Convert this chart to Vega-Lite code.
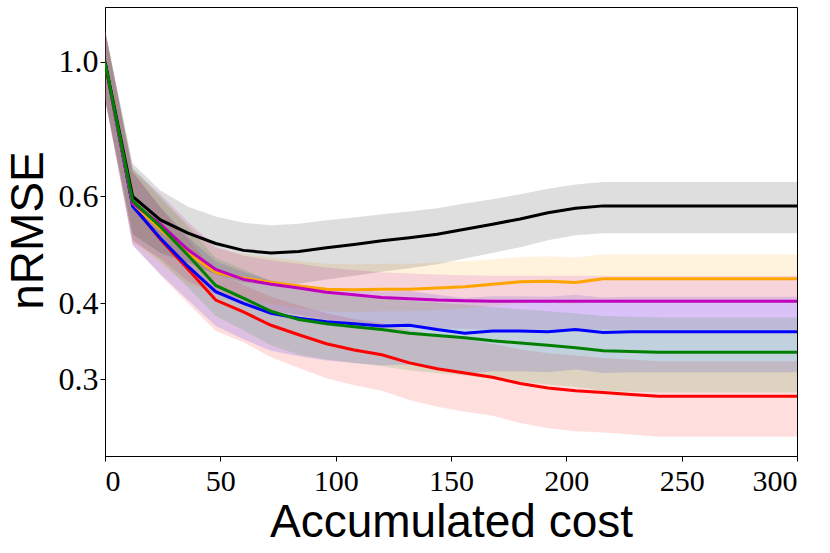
{
  "$schema": "https://vega.github.io/schema/vega-lite/v6.json",
  "width": 692,
  "height": 449,
  "autosize": "none",
  "padding": {"left": 105, "top": 7, "right": 33, "bottom": 97},
  "background": "white",
  "config": {
    "view": {"stroke": "black", "strokeWidth": 1},
    "axis": {"grid": false, "domainColor": "black", "tickColor": "black", "tickSize": 5, "labelColor": "black", "titleColor": "black"}
  },
  "data": {"values": [
    {"s":"red","x":0,"y":1.0,"lo":0.87,"hi":1.13},
    {"s":"red","x":12,"y":0.580,"lo":0.500,"hi":0.660},
    {"s":"red","x":24,"y":0.510,"lo":0.445,"hi":0.575},
    {"s":"red","x":36,"y":0.455,"lo":0.400,"hi":0.510},
    {"s":"red","x":48,"y":0.405,"lo":0.360,"hi":0.450},
    {"s":"red","x":60,"y":0.387,"lo":0.345,"hi":0.429},
    {"s":"red","x":72,"y":0.368,"lo":0.326,"hi":0.410},
    {"s":"red","x":84,"y":0.355,"lo":0.313,"hi":0.397},
    {"s":"red","x":96,"y":0.343,"lo":0.301,"hi":0.385},
    {"s":"red","x":108,"y":0.335,"lo":0.293,"hi":0.377},
    {"s":"red","x":120,"y":0.329,"lo":0.287,"hi":0.371},
    {"s":"red","x":132,"y":0.319,"lo":0.277,"hi":0.361},
    {"s":"red","x":144,"y":0.312,"lo":0.270,"hi":0.354},
    {"s":"red","x":156,"y":0.307,"lo":0.265,"hi":0.349},
    {"s":"red","x":168,"y":0.302,"lo":0.261,"hi":0.343},
    {"s":"red","x":180,"y":0.295,"lo":0.254,"hi":0.336},
    {"s":"red","x":192,"y":0.290,"lo":0.249,"hi":0.331},
    {"s":"red","x":204,"y":0.287,"lo":0.246,"hi":0.328},
    {"s":"red","x":216,"y":0.285,"lo":0.245,"hi":0.325},
    {"s":"red","x":228,"y":0.283,"lo":0.243,"hi":0.323},
    {"s":"red","x":240,"y":0.281,"lo":0.241,"hi":0.321},
    {"s":"red","x":300,"y":0.281,"lo":0.241,"hi":0.321},
    {"s":"blue","x":0,"y":1.0,"lo":0.87,"hi":1.13},
    {"s":"blue","x":12,"y":0.578,"lo":0.498,"hi":0.658},
    {"s":"blue","x":24,"y":0.512,"lo":0.447,"hi":0.577},
    {"s":"blue","x":36,"y":0.460,"lo":0.405,"hi":0.515},
    {"s":"blue","x":48,"y":0.418,"lo":0.367,"hi":0.469},
    {"s":"blue","x":60,"y":0.400,"lo":0.349,"hi":0.451},
    {"s":"blue","x":72,"y":0.385,"lo":0.334,"hi":0.436},
    {"s":"blue","x":84,"y":0.378,"lo":0.327,"hi":0.429},
    {"s":"blue","x":96,"y":0.373,"lo":0.322,"hi":0.424},
    {"s":"blue","x":108,"y":0.370,"lo":0.319,"hi":0.421},
    {"s":"blue","x":120,"y":0.367,"lo":0.316,"hi":0.418},
    {"s":"blue","x":132,"y":0.368,"lo":0.317,"hi":0.419},
    {"s":"blue","x":144,"y":0.362,"lo":0.311,"hi":0.413},
    {"s":"blue","x":156,"y":0.357,"lo":0.306,"hi":0.408},
    {"s":"blue","x":168,"y":0.360,"lo":0.309,"hi":0.411},
    {"s":"blue","x":180,"y":0.360,"lo":0.309,"hi":0.411},
    {"s":"blue","x":192,"y":0.359,"lo":0.308,"hi":0.410},
    {"s":"blue","x":204,"y":0.362,"lo":0.311,"hi":0.413},
    {"s":"blue","x":216,"y":0.358,"lo":0.307,"hi":0.409},
    {"s":"blue","x":228,"y":0.359,"lo":0.308,"hi":0.410},
    {"s":"blue","x":240,"y":0.359,"lo":0.308,"hi":0.410},
    {"s":"blue","x":300,"y":0.359,"lo":0.308,"hi":0.410},
    {"s":"orange","x":0,"y":1.0,"lo":0.87,"hi":1.13},
    {"s":"orange","x":12,"y":0.585,"lo":0.505,"hi":0.665},
    {"s":"orange","x":24,"y":0.530,"lo":0.465,"hi":0.595},
    {"s":"orange","x":36,"y":0.484,"lo":0.429,"hi":0.539},
    {"s":"orange","x":48,"y":0.450,"lo":0.416,"hi":0.493},
    {"s":"orange","x":60,"y":0.440,"lo":0.406,"hi":0.483},
    {"s":"orange","x":72,"y":0.433,"lo":0.399,"hi":0.476},
    {"s":"orange","x":84,"y":0.427,"lo":0.393,"hi":0.470},
    {"s":"orange","x":96,"y":0.422,"lo":0.388,"hi":0.465},
    {"s":"orange","x":108,"y":0.421,"lo":0.387,"hi":0.464},
    {"s":"orange","x":120,"y":0.422,"lo":0.388,"hi":0.465},
    {"s":"orange","x":132,"y":0.422,"lo":0.388,"hi":0.465},
    {"s":"orange","x":144,"y":0.424,"lo":0.390,"hi":0.467},
    {"s":"orange","x":156,"y":0.426,"lo":0.392,"hi":0.469},
    {"s":"orange","x":168,"y":0.430,"lo":0.396,"hi":0.473},
    {"s":"orange","x":180,"y":0.434,"lo":0.400,"hi":0.477},
    {"s":"orange","x":192,"y":0.435,"lo":0.401,"hi":0.478},
    {"s":"orange","x":204,"y":0.433,"lo":0.399,"hi":0.476},
    {"s":"orange","x":216,"y":0.439,"lo":0.405,"hi":0.482},
    {"s":"orange","x":228,"y":0.439,"lo":0.405,"hi":0.482},
    {"s":"orange","x":240,"y":0.439,"lo":0.405,"hi":0.482},
    {"s":"orange","x":300,"y":0.439,"lo":0.405,"hi":0.482},
    {"s":"magenta","x":0,"y":1.0,"lo":0.87,"hi":1.13},
    {"s":"magenta","x":12,"y":0.585,"lo":0.505,"hi":0.665},
    {"s":"magenta","x":24,"y":0.540,"lo":0.475,"hi":0.605},
    {"s":"magenta","x":36,"y":0.490,"lo":0.435,"hi":0.545},
    {"s":"magenta","x":48,"y":0.455,"lo":0.414,"hi":0.496},
    {"s":"magenta","x":60,"y":0.438,"lo":0.397,"hi":0.479},
    {"s":"magenta","x":72,"y":0.430,"lo":0.389,"hi":0.471},
    {"s":"magenta","x":84,"y":0.424,"lo":0.383,"hi":0.465},
    {"s":"magenta","x":96,"y":0.417,"lo":0.376,"hi":0.458},
    {"s":"magenta","x":108,"y":0.413,"lo":0.372,"hi":0.454},
    {"s":"magenta","x":120,"y":0.409,"lo":0.368,"hi":0.450},
    {"s":"magenta","x":132,"y":0.407,"lo":0.366,"hi":0.448},
    {"s":"magenta","x":144,"y":0.405,"lo":0.364,"hi":0.446},
    {"s":"magenta","x":156,"y":0.404,"lo":0.363,"hi":0.445},
    {"s":"magenta","x":168,"y":0.403,"lo":0.362,"hi":0.444},
    {"s":"magenta","x":180,"y":0.403,"lo":0.362,"hi":0.444},
    {"s":"magenta","x":192,"y":0.403,"lo":0.362,"hi":0.444},
    {"s":"magenta","x":204,"y":0.403,"lo":0.362,"hi":0.444},
    {"s":"magenta","x":216,"y":0.403,"lo":0.362,"hi":0.444},
    {"s":"magenta","x":228,"y":0.403,"lo":0.362,"hi":0.444},
    {"s":"magenta","x":240,"y":0.403,"lo":0.362,"hi":0.444},
    {"s":"magenta","x":300,"y":0.403,"lo":0.362,"hi":0.444},
    {"s":"black","x":0,"y":1.0,"lo":0.87,"hi":1.13},
    {"s":"black","x":12,"y":0.600,"lo":0.520,"hi":0.680},
    {"s":"black","x":24,"y":0.549,"lo":0.484,"hi":0.614},
    {"s":"black","x":36,"y":0.522,"lo":0.467,"hi":0.577},
    {"s":"black","x":48,"y":0.502,"lo":0.446,"hi":0.556},
    {"s":"black","x":60,"y":0.489,"lo":0.433,"hi":0.543},
    {"s":"black","x":72,"y":0.484,"lo":0.428,"hi":0.538},
    {"s":"black","x":84,"y":0.487,"lo":0.431,"hi":0.541},
    {"s":"black","x":96,"y":0.494,"lo":0.438,"hi":0.548},
    {"s":"black","x":108,"y":0.500,"lo":0.444,"hi":0.554},
    {"s":"black","x":120,"y":0.507,"lo":0.451,"hi":0.561},
    {"s":"black","x":132,"y":0.513,"lo":0.457,"hi":0.567},
    {"s":"black","x":144,"y":0.520,"lo":0.464,"hi":0.574},
    {"s":"black","x":156,"y":0.530,"lo":0.474,"hi":0.584},
    {"s":"black","x":168,"y":0.540,"lo":0.484,"hi":0.594},
    {"s":"black","x":180,"y":0.551,"lo":0.495,"hi":0.605},
    {"s":"black","x":192,"y":0.564,"lo":0.508,"hi":0.618},
    {"s":"black","x":204,"y":0.574,"lo":0.518,"hi":0.628},
    {"s":"black","x":216,"y":0.579,"lo":0.522,"hi":0.634},
    {"s":"black","x":228,"y":0.579,"lo":0.522,"hi":0.634},
    {"s":"black","x":240,"y":0.579,"lo":0.522,"hi":0.634},
    {"s":"black","x":300,"y":0.579,"lo":0.522,"hi":0.634},
    {"s":"green","x":0,"y":1.0,"lo":0.87,"hi":1.13},
    {"s":"green","x":12,"y":0.590,"lo":0.510,"hi":0.670},
    {"s":"green","x":24,"y":0.535,"lo":0.470,"hi":0.600},
    {"s":"green","x":36,"y":0.480,"lo":0.425,"hi":0.535},
    {"s":"green","x":48,"y":0.428,"lo":0.381,"hi":0.475},
    {"s":"green","x":60,"y":0.408,"lo":0.361,"hi":0.455},
    {"s":"green","x":72,"y":0.388,"lo":0.341,"hi":0.435},
    {"s":"green","x":84,"y":0.376,"lo":0.329,"hi":0.423},
    {"s":"green","x":96,"y":0.370,"lo":0.323,"hi":0.417},
    {"s":"green","x":108,"y":0.366,"lo":0.319,"hi":0.413},
    {"s":"green","x":120,"y":0.362,"lo":0.315,"hi":0.409},
    {"s":"green","x":132,"y":0.357,"lo":0.310,"hi":0.404},
    {"s":"green","x":144,"y":0.354,"lo":0.307,"hi":0.401},
    {"s":"green","x":156,"y":0.351,"lo":0.304,"hi":0.398},
    {"s":"green","x":168,"y":0.347,"lo":0.300,"hi":0.394},
    {"s":"green","x":180,"y":0.344,"lo":0.297,"hi":0.391},
    {"s":"green","x":192,"y":0.341,"lo":0.294,"hi":0.388},
    {"s":"green","x":204,"y":0.338,"lo":0.291,"hi":0.385},
    {"s":"green","x":216,"y":0.334,"lo":0.287,"hi":0.381},
    {"s":"green","x":228,"y":0.333,"lo":0.286,"hi":0.380},
    {"s":"green","x":240,"y":0.332,"lo":0.285,"hi":0.379},
    {"s":"green","x":300,"y":0.332,"lo":0.285,"hi":0.379}
  ]},
  "encoding": {
    "x": {"field": "x", "type": "quantitative",
      "scale": {"domain": [0, 300], "nice": false, "zero": false},
      "axis": {"values": [0, 50, 100, 150, 200, 250, 300], "title": "Accumulated cost",
        "labelFont": "Liberation Serif", "labelFontSize": 30, "labelPadding": 5,
        "titleFont": "Liberation Sans", "titleFontSize": 46, "titleFontWeight": "normal",
        "titleBaseline": "alphabetic", "titleY": 80}},
    "color": {"field": "s", "type": "nominal", "legend": null,
      "scale": {"domain": ["red", "blue", "orange", "magenta", "black", "green"],
                "range": ["#FF0000", "#0000FF", "#FFA500", "#BF00BF", "#000000", "#008000"]}}
  },
  "layer": [
    {
      "mark": {"type": "area", "opacity": 0.13, "clip": true},
      "encoding": {
        "y": {"field": "lo", "type": "quantitative",
          "scale": {"type": "log", "domain": [0.224, 1.232], "nice": false, "zero": false},
          "axis": {"values": [0.3, 0.4, 0.6, 1.0], "format": ".1f", "title": "nRMSE",
            "labelFont": "Liberation Serif", "labelFontSize": 32, "labelPadding": 2,
            "titleFont": "Liberation Sans", "titleFontSize": 46, "titleFontWeight": "normal",
            "titleBaseline": "alphabetic", "titleX": -63, "titleY": 223, "titleAngle": -90}},
        "y2": {"field": "hi"}
      }
    },
    {
      "mark": {"type": "line", "strokeWidth": 3, "clip": true},
      "encoding": {
        "y": {"field": "y", "type": "quantitative"}
      }
    }
  ]
}
